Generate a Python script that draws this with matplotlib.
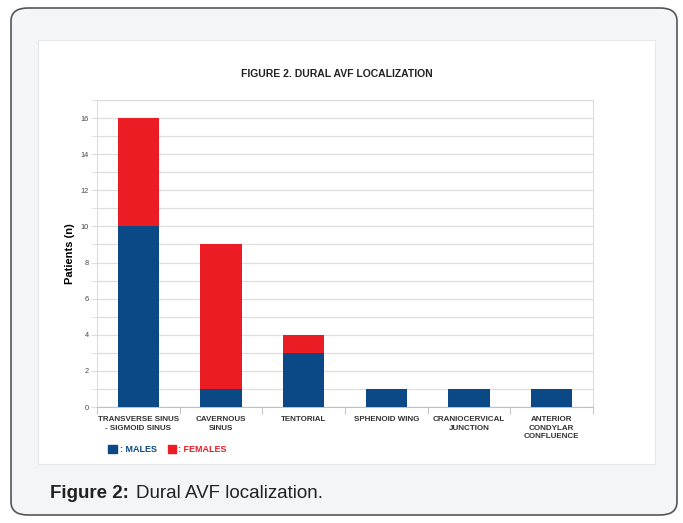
import matplotlib
matplotlib.use("Agg")
import matplotlib.pyplot as plt
from matplotlib.patches import FancyBboxPatch, Rectangle
import numpy as np

plt.rcParams['font.family'] = ['Liberation Sans', 'DejaVu Sans']

# data
locations = ['TRANSVERSE SINUS\n- SIGMOID SINUS', 'CAVERNOUS\nSINUS', 'TENTORIAL',
             'SPHENOID WING', 'CRANIOCERVICAL\nJUNCTION', 'ANTERIOR\nCONDYLAR\nCONFLUENCE']
males = [10, 1, 3, 1, 1, 1]
females = [6, 8, 1, 0, 0, 0]
y_ticks = [0, 2, 4, 6, 8, 10, 12, 14, 16]

blue = '#0b4886'
red = '#ec1c24'

W, H = 683, 523
fig = plt.figure(figsize=(W / 100, H / 100), dpi=100)
fig.patch.set_facecolor('white')

# outer rounded card
card = FancyBboxPatch((11 / W, 1 - 515 / H), 666 / W, 507 / H,
                      boxstyle='round,pad=0,rounding_size=0.025',
                      transform=fig.transFigure, facecolor='#f2f6f9',
                      edgecolor='#555555', linewidth=1.2, zorder=-2)
fig.patches.append(card)
# inner white panel
panel = Rectangle((38 / W, 1 - 464 / H), 617 / W, 424 / H,
                  transform=fig.transFigure, facecolor='white',
                  edgecolor='#e3e8ec', linewidth=0.8, zorder=-1)
fig.patches.append(panel)

ax = fig.add_axes([97 / W, 1 - 407 / H, 496 / W, 307 / H])
ax.set_zorder(1)
ax.set_facecolor('white')
x = np.arange(len(locations))
ax.bar(x, males, width=0.5, color=blue, zorder=3)
ax.bar(x, females, width=0.5, bottom=males, color=red, zorder=3)

ax.set_xlim(-0.5, len(locations) - 0.5)
ax.set_ylim(0, 17)
ax.set_yticks(y_ticks)
ax.set_yticks(np.arange(0, 18, 1), minor=True)
ax.grid(axis='y', which='both', color='#dedede', linewidth=0.9, zorder=0)
ax.tick_params(axis='y', which='both', length=4, color='#dedede', labelsize=5.3,
               labelcolor='#444444', pad=2)

# category labels between boundary ticks
ax.set_xticks(np.arange(-0.5, len(locations), 1))
ax.set_xticklabels([])
ax.set_xticks(x, minor=True)
ax.set_xticklabels(locations, minor=True, fontsize=5.8, fontweight='bold',
                   color='#333333', linespacing=1.3)
ax.tick_params(axis='x', which='major', length=5, color='#c8c8c8')
ax.tick_params(axis='x', which='minor', length=0, pad=6.5)

for side in ['top', 'right', 'left']:
    ax.spines[side].set_color('#dcdcdc')
ax.spines['bottom'].set_color('#c0c0c0')

ax.set_ylabel('Patients (n)', fontsize=8, fontweight='bold', labelpad=4)
fig.text(337 / W, 1 - 74 / H, 'FIGURE 2. DURAL AVF LOCALIZATION', ha='center',
         va='center', fontsize=7.5, fontweight='bold', color='#222222')

# legend drawn as text markers
fig.patches.append(Rectangle((108 / W, 1 - 453 / H), 9 / W, 8 / H,
                             transform=fig.transFigure, color=blue))
fig.text(120 / W, 1 - 449 / H, ': MALES', fontsize=6.5, fontweight='bold',
         color=blue, va='center')
fig.patches.append(Rectangle((168 / W, 1 - 453 / H), 8 / W, 8 / H,
                             transform=fig.transFigure, color=red))
fig.text(178 / W, 1 - 449 / H, ': FEMALES', fontsize=6.5, fontweight='bold',
         color=red, va='center')

# caption
fig.text(50 / W, 1 - 494 / H, 'Figure 2:', fontsize=13.5, fontweight='bold',
         color='#222222', va='center')
fig.text(136 / W, 1 - 494 / H, 'Dural AVF localization.', fontsize=13.5,
         color='#222222', va='center')

fig.savefig('out.png', dpi=100)
